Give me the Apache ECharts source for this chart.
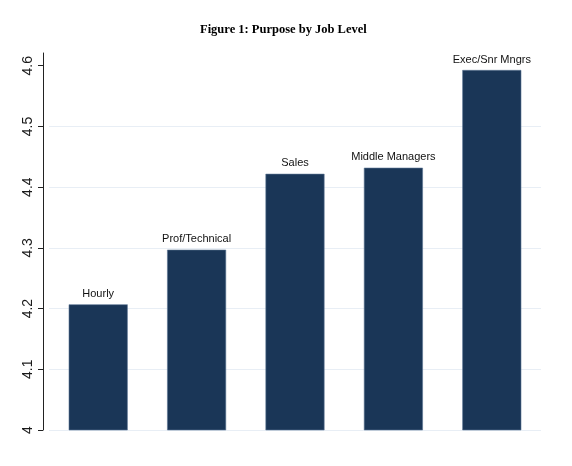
<!DOCTYPE html>
<html>
<head>
	<meta charset="utf-8">
	<title>Figure 1: Purpose by Job Level</title>
	<script type="text/javascript" src="https://cdn.jsdelivr.net/npm/echarts@6/dist/echarts.min.js"></script>
	<style>
		html, body { margin: 0; padding: 0; background: #fff; }
	</style>
</head>
<body>
	<div id="chart" style="width: 572px;height:466px;"></div>

	<script type="text/javascript">
		// values
		var jobLevels = ['Hourly', 'Prof/Technical', 'Sales', 'Middle Managers', 'Exec/Snr Mngrs'];
		var purpose = [4.207, 4.297, 4.422, 4.432, 4.593];
		var yTicks = [4, 4.1, 4.2, 4.3, 4.4, 4.5, 4.6];

		var chart = echarts.init(document.getElementById('chart'));
		var option = {
			animation: false,
			title: {
				text: 'Figure 1: Purpose by Job Level',
				left: 195,
				top: 18,
				textStyle: {
					fontFamily: 'Liberation Serif',
					fontWeight: 'bold',
					fontSize: 12.5,
					color: '#000'
				}
			},
			grid: {
				left: 49,
				right: 31,
				top: 53,
				bottom: 36
			},
			xAxis: {
				type: 'category',
				data: jobLevels,
				axisLine: { show: false },
				axisTick: { show: false },
				axisLabel: { show: false }
			},
			yAxis: {
				type: 'value',
				min: 4,
				max: 4.621,
				interval: 0.1,
				offset: 6,
				axisLine: {
					show: true,
					lineStyle: { color: '#222', width: 1 }
				},
				axisTick: {
					show: true,
					length: 5,
					customValues: yTicks,
					lineStyle: { color: '#222' }
				},
				axisLabel: {
					rotate: 90,
					margin: 8,
					customValues: yTicks,
					fontFamily: 'Liberation Sans',
					fontSize: 14,
					color: '#1a1a1a'
				},
				splitLine: {
					show: true,
					showMaxLine: false,
					lineStyle: { color: '#e8eef5', width: 1 }
				}
			},
			series: [
				{
					type: 'bar',
					data: purpose,
					barWidth: 59,
					itemStyle: {
						color: '#1a3657',
						borderColor: '#5c7593',
						borderWidth: 0.6
					},
					label: {
						show: true,
						position: 'top',
						distance: 5,
						fontFamily: 'Liberation Sans',
						fontSize: 11,
						color: '#111',
						formatter: function (p) { return p.name; }
					}
				}
			]
		};

		chart.setOption(option);
	</script>
</body>
</html>
